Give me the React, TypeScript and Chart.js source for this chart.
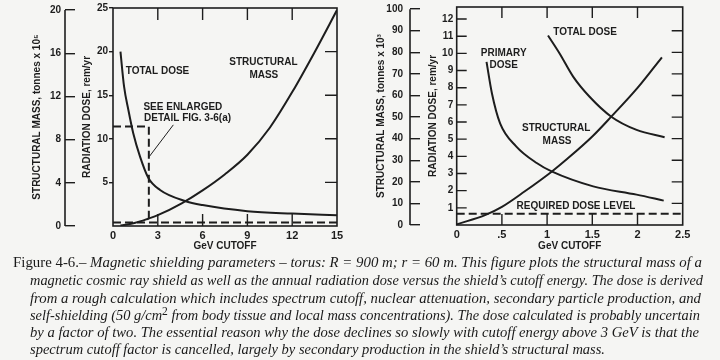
import React, { useEffect, useRef } from "react";
import { Chart, registerables } from "chart.js";
Chart.register(...registerables);

const INK = "#1d1d1d";
const PAPER = "#f5f5f3";
const SANS = "'Liberation Sans', Arial, sans-serif";
const SERIF = "'Liberation Serif', 'Times New Roman', serif";

// ---------- left panel data (0–15 GeV) ----------
const L_X_TICKS = [0, 3, 6, 9, 12, 15];
const L_DOSE_TICKS = [5, 10, 15, 20, 25];
const L_MASS_TICKS = [0, 4, 8, 12, 16, 20];
const L_TOTAL_DOSE_X = [0.5, 0.74, 1.03, 1.36, 1.81, 2.37, 3.15, 4.82, 6, 9, 12, 15];
const L_TOTAL_DOSE_Y = [20, 16, 13.3, 10.6, 7.95, 5.5, 4.13, 2.87, 2.4, 1.7, 1.42, 1.23];
const L_MASS_X = [0.5, 1.5, 2.4, 3, 4.6, 6, 7.5, 9, 10.5, 12, 13.5, 15];
const L_MASS_Y = [0.05, 0.3, 0.7, 1.0, 2.1, 3.3, 4.8, 6.6, 9.1, 12.4, 16.1, 20];
const L_REQUIRED_X = [0, 15];
const L_REQUIRED_Y = [0.4, 0.4];
const L_DETAIL_X = [0, 2.4, 2.4];
const L_DETAIL_Y = [11.4, 11.4, 0.4];
const L_LEADER_X = [4.04, 2.43];
const L_LEADER_Y = [11.6, 7.96];
const L_LABELS = [
  { text: "TOTAL DOSE", x: 2.98, y: 17.7 },
  { text: "STRUCTURAL", x: 10.07, y: 18.75 },
  { text: "MASS", x: 10.1, y: 17.3 },
  { text: "SEE ENLARGED", x: 4.68, y: 13.6 },
  { text: "DETAIL FIG. 3-6(a)", x: 4.99, y: 12.3 },
];

// ---------- right panel data (0–2.5 GeV) ----------
const R_X_TICKS = [0, 0.5, 1, 1.5, 2, 2.5];
const R_X_LABELS = ["0", ".5", "1", "1.5", "2", "2.5"];
const R_DOSE_TICKS = [1, 2, 3, 4, 5, 6, 7, 8, 9, 10, 11, 12];
const R_MASS_TICKS = [0, 10, 20, 30, 40, 50, 60, 70, 80, 90, 100];
const R_PRIMARY_X = [0.33, 0.39, 0.48, 0.66, 0.885, 1.05, 1.51, 1.99, 2.29];
const R_PRIMARY_Y = [9.5, 7.66, 5.92, 4.57, 3.61, 3.12, 2.25, 1.77, 1.42];
const R_TOTAL_X = [1.01, 1.14, 1.29, 1.47, 1.71, 1.99, 2.3];
const R_TOTAL_Y = [11.04, 9.98, 8.63, 7.47, 6.31, 5.54, 5.11];
const R_MASS_X = [0, 0.32, 0.5, 0.75, 1.05, 1.23, 1.5, 1.71, 2.0, 2.27];
const R_MASS_Y = [0.3, 4.7, 8.4, 15.5, 24.7, 30.9, 41, 50.2, 63.5, 77.7];
const R_REQUIRED_X = [0, 2.5];
const R_REQUIRED_Y = [0.65, 0.65];
const R_LABELS = [
  { text: "TOTAL DOSE", x: 1.42, y: 11.2 },
  { text: "PRIMARY", x: 0.52, y: 9.98 },
  { text: "DOSE", x: 0.52, y: 9.3 },
  { text: "STRUCTURAL", x: 1.1, y: 5.63 },
  { text: "MASS", x: 1.11, y: 4.9 },
  { text: "REQUIRED DOSE LEVEL", x: 1.32, y: 1.09 },
];

// ---------- caption ----------
const CAPTION_HEAD = "Figure 4-6.\u2013 ";
const CAPTION_LINE1 = "Magnetic shielding parameters \u2013 torus: R = 900 m; r = 60 m. This figure plots the structural mass of a";
const CAPTION_LINE2 = "magnetic cosmic ray shield as well as the annual radiation dose versus the shield\u2019s cutoff energy. The dose is derived";
const CAPTION_LINE3 = "from a rough calculation which includes spectrum cutoff, nuclear attenuation, secondary particle production, and";
const CAPTION_LINE4A = "self-shielding (50 g/cm";
const CAPTION_LINE4SUP = "2";
const CAPTION_LINE4B = " from body tissue and local mass concentrations). The dose calculated is probably uncertain";
const CAPTION_LINE5 = "by a factor of two. The essential reason why the dose declines so slowly with cutoff energy above 3 GeV is that the";
const CAPTION_LINE6 = "spectrum cutoff factor is cancelled, largely by secondary production in the shield\u2019s structural mass.";

type Lbl = { text: string; x: number; y: number };
type Panel = {
  width: number;
  height: number;
  area: { left: number; right: number; top: number; bottom: number };
  massAxisRight: number;
  massTickLen: number;
  massLabelPad: number;
  massTitlePad: number;
  doseLabelPad: number;
  doseTitlePad: number;
  doseOutTick: number;
  xMax: number;
  xTicks: number[];
  xFmt: (v: number) => string;
  doseMax: number;
  doseTicks: number[];
  massMax: number;
  massTicks: number[];
  massTitle: string;
  doseTitle: string;
  datasets: any[];
  topTicks: number[];
  bottomTicks: number[];
  leftInTicks: number[];
  rightInTicks: number[];
  rightInScale: "y" | "y2";
  inLen: number;
  labels: Lbl[];
};

function pts(xs: number[], ys: number[]) {
  return xs.map((x, i) => ({ x, y: ys[i] }));
}

function curve(xs: number[], ys: number[], axis: string, extra: any = {}) {
  return {
    type: "line",
    data: pts(xs, ys),
    yAxisID: axis,
    borderColor: INK,
    borderWidth: 2,
    pointRadius: 0,
    fill: false,
    cubicInterpolationMode: "monotone",
    ...extra,
  };
}

function straight(xs: number[], ys: number[], axis: string, extra: any = {}) {
  return {
    type: "line",
    data: pts(xs, ys),
    yAxisID: axis,
    borderColor: INK,
    borderWidth: 2,
    pointRadius: 0,
    fill: false,
    tension: 0,
    ...extra,
  };
}

const LEFT_PANEL: Panel = {
  width: 350,
  height: 256,
  area: { left: 113, right: 337, top: 8, bottom: 226 },
  massAxisRight: 75,
  massTickLen: 10,
  massLabelPad: 4,
  massTitlePad: 31,
  doseLabelPad: 1,
  doseTitlePad: 6,
  doseOutTick: 4,
  xMax: 15,
  xTicks: L_X_TICKS,
  xFmt: (v) => String(v),
  doseMax: 25,
  doseTicks: L_DOSE_TICKS,
  massMax: 20.19,
  massTicks: L_MASS_TICKS,
  massTitle: "STRUCTURAL MASS, tonnes x 10\u2075",
  doseTitle: "RADIATION DOSE, rem/yr",
  datasets: [
    curve(L_TOTAL_DOSE_X, L_TOTAL_DOSE_Y, "y"),
    curve(L_MASS_X, L_MASS_Y, "y2"),
    straight(L_REQUIRED_X, L_REQUIRED_Y, "y", { borderDash: [8, 4] }),
    straight(L_DETAIL_X, L_DETAIL_Y, "y", { borderDash: [8, 4] }),
    straight(L_LEADER_X, L_LEADER_Y, "y", { borderWidth: 1 }),
  ],
  topTicks: [3, 6, 9, 12],
  bottomTicks: [3, 6, 9, 12],
  leftInTicks: [],
  rightInTicks: [5, 10, 15, 20],
  rightInScale: "y",
  inLen: 12,
  labels: L_LABELS,
};

const RIGHT_PANEL: Panel = {
  width: 370,
  height: 256,
  area: { left: 106.7, right: 332.7, top: 7, bottom: 225 },
  massAxisRight: 70,
  massTickLen: 10,
  massLabelPad: 7,
  massTitlePad: 25,
  doseLabelPad: 3.5,
  doseTitlePad: 7,
  doseOutTick: 0,
  xMax: 2.5,
  xTicks: R_X_TICKS,
  xFmt: (v) => R_X_LABELS[R_X_TICKS.indexOf(v)] ?? String(v),
  doseMax: 12.7,
  doseTicks: R_DOSE_TICKS,
  massMax: 101,
  massTicks: R_MASS_TICKS,
  massTitle: "STRUCTURAL MASS, tonnes x 10\u00B3",
  doseTitle: "RADIATION DOSE, rem/yr",
  datasets: [
    curve(R_PRIMARY_X, R_PRIMARY_Y, "y"),
    curve(R_TOTAL_X, R_TOTAL_Y, "y"),
    curve(R_MASS_X, R_MASS_Y, "y2"),
    straight(R_REQUIRED_X, R_REQUIRED_Y, "y", { borderDash: [8, 4] }),
  ],
  topTicks: [0.5, 1, 1.5, 2],
  bottomTicks: [0.5, 1, 1.5, 2],
  leftInTicks: R_DOSE_TICKS,
  rightInTicks: [10, 20, 30, 40, 50, 60, 70, 80, 90],
  rightInScale: "y2",
  inLen: 11,
  labels: R_LABELS,
};

function zeroPad(s: any) {
  s.paddingLeft = 0;
  s.paddingRight = 0;
  s.paddingTop = 0;
  s.paddingBottom = 0;
}

function makePlugin(p: Panel) {
  return {
    id: "panelDecor",
    afterDraw(chart: any) {
      const { ctx, chartArea: a, scales } = chart;
      const sx = scales.x;
      const sy = scales.y;
      const sm = scales.y2;
      ctx.save();
      ctx.strokeStyle = INK;
      ctx.fillStyle = INK;
      ctx.lineWidth = 1.6;
      ctx.setLineDash([]);
      ctx.strokeRect(a.left, a.top, a.right - a.left, a.bottom - a.top);
      ctx.lineWidth = 1.4;
      ctx.beginPath();
      for (const v of p.topTicks) {
        const x = sx.getPixelForValue(v);
        ctx.moveTo(x, a.top);
        ctx.lineTo(x, a.top + p.inLen);
      }
      for (const v of p.bottomTicks) {
        const x = sx.getPixelForValue(v);
        ctx.moveTo(x, a.bottom);
        ctx.lineTo(x, a.bottom - p.inLen);
      }
      for (const v of p.leftInTicks) {
        const y = sy.getPixelForValue(v);
        ctx.moveTo(a.left, y);
        ctx.lineTo(a.left + 10, y);
      }
      const rs = scales[p.rightInScale];
      for (const v of p.rightInTicks) {
        const y = rs.getPixelForValue(v);
        ctx.moveTo(a.right, y);
        ctx.lineTo(a.right - p.inLen, y);
      }
      ctx.stroke();
      // separate mass axis line
      const mx = sm.right - p.massTickLen;
      ctx.lineWidth = 1.6;
      ctx.beginPath();
      ctx.moveTo(mx, sm.getPixelForValue(p.massTicks[0]));
      ctx.lineTo(mx, sm.getPixelForValue(p.massTicks[p.massTicks.length - 1]));
      ctx.stroke();
      // in-plot labels
      ctx.font = `bold 10px ${SANS}`;
      ctx.textAlign = "center";
      ctx.textBaseline = "middle";
      for (const l of p.labels) {
        ctx.fillText(l.text, sx.getPixelForValue(l.x), sy.getPixelForValue(l.y));
      }
      ctx.restore();
    },
  };
}

function makeChart(canvas: HTMLCanvasElement, p: Panel) {
  const tickFont = { family: SANS, size: 10, weight: "bold" as const };
  const titleFont = { family: SANS, size: 10, weight: "bold" as const };
  return new Chart(canvas, {
    type: "line",
    data: { datasets: p.datasets },
    plugins: [makePlugin(p)],
    options: {
      animation: false,
      responsive: false,
      maintainAspectRatio: false,
      devicePixelRatio: 1,
      layout: {
        padding: { top: p.area.top, right: p.width - p.area.right, left: 0, bottom: 0 },
      },
      plugins: { legend: { display: false }, tooltip: { enabled: false } },
      scales: {
        x: {
          type: "linear",
          min: 0,
          max: p.xMax,
          afterBuildTicks: (s: any) => {
            s.ticks = p.xTicks.map((v) => ({ value: v }));
          },
          afterFit: (s: any) => {
            s.height = p.height - p.area.bottom;
            zeroPad(s);
          },
          grid: { display: false, drawTicks: false },
          border: { display: false },
          ticks: {
            color: INK,
            font: { family: SANS, size: 11, weight: "bold" },
            padding: 3,
            maxRotation: 0,
            autoSkip: false,
            callback: (v: any) => p.xFmt(Number(v)),
          },
          title: {
            display: true,
            text: "GeV CUTOFF",
            color: INK,
            font: titleFont,
            padding: { top: 0, bottom: 4 },
          },
        },
        y: {
          type: "linear",
          position: "left",
          min: 0,
          max: p.doseMax,
          afterBuildTicks: (s: any) => {
            s.ticks = p.doseTicks.map((v) => ({ value: v }));
          },
          afterFit: (s: any) => {
            s.width = p.area.left - p.massAxisRight;
            zeroPad(s);
          },
          grid: {
            display: p.doseOutTick > 0,
            drawOnChartArea: false,
            drawTicks: p.doseOutTick > 0,
            tickLength: p.doseOutTick,
            color: INK,
            lineWidth: 1.4,
          },
          border: { display: false },
          ticks: {
            color: INK,
            font: tickFont,
            padding: p.doseLabelPad,
            autoSkip: false,
          },
          title: {
            display: true,
            text: p.doseTitle,
            color: INK,
            font: titleFont,
            padding: { top: p.doseTitlePad, bottom: 0 },
          },
        },
        y2: {
          type: "linear",
          position: "left",
          min: 0,
          max: p.massMax,
          afterBuildTicks: (s: any) => {
            s.ticks = p.massTicks.map((v) => ({ value: v }));
          },
          afterFit: (s: any) => {
            s.width = p.massAxisRight;
            zeroPad(s);
          },
          grid: {
            display: true,
            drawOnChartArea: false,
            drawTicks: true,
            tickLength: p.massTickLen,
            color: INK,
            lineWidth: 1.4,
          },
          border: { display: false },
          ticks: {
            color: INK,
            font: tickFont,
            padding: p.massLabelPad,
            autoSkip: false,
          },
          title: {
            display: true,
            text: p.massTitle,
            color: INK,
            font: titleFont,
            padding: { top: p.massTitlePad, bottom: 0 },
          },
        },
      },
    } as any,
  });
}

function Caption() {
  const common = {
    fontFamily: SERIF,
    fontSize: 15,
    fill: "#1a1a1a",
    lengthAdjust: "spacingAndGlyphs" as const,
  };
  return (
    <svg
      width={720}
      height={360}
      style={{ position: "absolute", left: 0, top: 0, pointerEvents: "none" }}
    >
      <text x={13} y={267} textLength={689} {...common}>
        <tspan fontStyle="normal">{CAPTION_HEAD}</tspan>
        <tspan fontStyle="italic">{CAPTION_LINE1}</tspan>
      </text>
      <text x={30} y={285} textLength={673} fontStyle="italic" {...common}>
        {CAPTION_LINE2}
      </text>
      <text x={30} y={302.5} textLength={671} fontStyle="italic" {...common}>
        {CAPTION_LINE3}
      </text>
      <text x={30} y={320} textLength={670} fontStyle="italic" {...common}>
        <tspan>{CAPTION_LINE4A}</tspan>
        <tspan dy={-5} fontSize={12} fontStyle="normal">{CAPTION_LINE4SUP}</tspan>
        <tspan dy={5}>{CAPTION_LINE4B}</tspan>
      </text>
      <text x={30} y={337} textLength={669} fontStyle="italic" {...common}>
        {CAPTION_LINE5}
      </text>
      <text x={30} y={354} textLength={575} fontStyle="italic" {...common}>
        {CAPTION_LINE6}
      </text>
    </svg>
  );
}

export default function App() {
  const leftRef = useRef<HTMLCanvasElement>(null);
  const rightRef = useRef<HTMLCanvasElement>(null);
  useEffect(() => {
    const charts: Chart[] = [];
    if (leftRef.current) charts.push(makeChart(leftRef.current, LEFT_PANEL));
    if (rightRef.current) charts.push(makeChart(rightRef.current, RIGHT_PANEL));
    return () => charts.forEach((c) => c.destroy());
  }, []);
  return (
    <div
      style={{
        position: "fixed",
        left: 0,
        top: 0,
        width: 720,
        height: 360,
        background: PAPER,
        overflow: "hidden",
      }}
    >
      <canvas
        ref={leftRef}
        width={LEFT_PANEL.width}
        height={LEFT_PANEL.height}
        style={{ position: "absolute", left: 0, top: 0, width: LEFT_PANEL.width, height: LEFT_PANEL.height }}
      />
      <canvas
        ref={rightRef}
        width={RIGHT_PANEL.width}
        height={RIGHT_PANEL.height}
        style={{ position: "absolute", left: 350, top: 0, width: RIGHT_PANEL.width, height: RIGHT_PANEL.height }}
      />
      <Caption />
    </div>
  );
}
